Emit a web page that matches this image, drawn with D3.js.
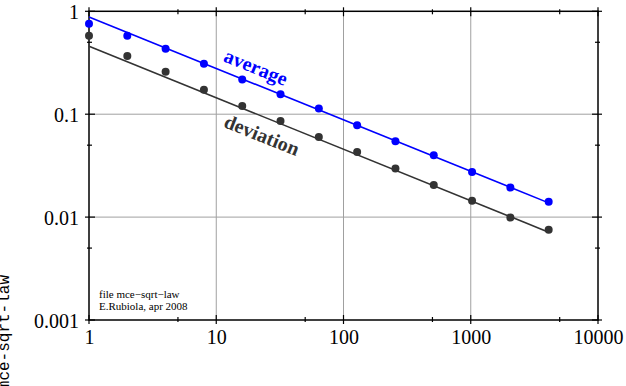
<!DOCTYPE html>
<html><head><meta charset="utf-8">
<script src="https://cdn.jsdelivr.net/npm/d3@7"></script>
<style>
body{margin:0;background:#fff}
svg{display:block}
svg text{font-family:'Liberation Serif';}
svg text.mono{font-family:'Liberation Mono';}
</style>
</head><body>
<script>
const nValues = [1,2,4,8,16,32,64,128,256,512,1024,2048,4096];
const averageValues = [0.758,0.58,0.433,0.31,0.217,0.156,0.1135,0.078,0.0547,0.040,0.0275,0.0194,0.0141];
const deviationValues = [0.58,0.368,0.259,0.173,0.12,0.086,0.060,0.043,0.0296,0.0205,0.0144,0.0099,0.00753];
const fitX = [1,4096];
const averageFit = [0.88,0.01375];
const deviationFit = [0.457,0.00714];
const xTicks = [1,10,100,1000,10000];
const xTickLabels = ["1","10","100","1000","10000"];
const xMinor = [5,50,500,5000];
const yTicks = [0.001,0.01,0.1,1];
const yTickLabels = ["0.001","0.01","0.1","1"];
const yMinor = [0.005,0.05,0.5];

const W=626,H=386;
const svg=d3.select("body").append("svg").attr("width",W).attr("height",H);
const x=d3.scaleLog().domain([1,10000]).range([89,598]);
const y=d3.scaleLog().domain([0.001,1]).range([320,11.3]);
const SERIF="'Liberation Serif'";

// grid
const g=svg.append("g");
g.selectAll(".gx").data(xTicks.slice(1,-1)).enter().append("line")
 .attr("x1",d=>x(d)).attr("x2",d=>x(d)).attr("y1",y(1)).attr("y2",y(0.001))
 .attr("stroke","#a0a0a0").attr("stroke-width",1);
g.selectAll(".gy").data(yTicks.slice(1,-1)).enter().append("line")
 .attr("y1",d=>y(d)).attr("y2",d=>y(d)).attr("x1",x(1)).attr("x2",x(10000))
 .attr("stroke","#a0a0a0").attr("stroke-width",1);

function fmtX(d){const i=xTicks.indexOf(d);return i>=0?xTickLabels[i]:"";}
function fmtY(d){const i=yTicks.indexOf(d);return i>=0?yTickLabels[i]:"";}
const ax=svg.append("g").attr("transform",`translate(0,${y(0.001)})`)
 .call(d3.axisBottom(x).tickValues(xTicks).tickFormat(fmtX).tickSize(0).tickPadding(10));
ax.select(".domain").remove();
ax.attr("font-family",null).attr("font-size",20);
ax.selectAll("text").style("font-family",SERIF).attr("font-size",20).attr("fill","#000");
const ay=svg.append("g").attr("transform",`translate(${x(1)},0)`)
 .call(d3.axisLeft(y).tickValues(yTicks).tickFormat(fmtY).tickSize(0).tickPadding(10));
ay.select(".domain").remove();
ay.attr("font-family",null).attr("font-size",20);
ay.selectAll("text").style("font-family",SERIF).attr("font-size",20).attr("fill","#000").attr("dy","0.35em");

// frame
svg.append("rect").attr("x",x(1)).attr("y",y(1)).attr("width",x(10000)-x(1)).attr("height",y(0.001)-y(1))
 .attr("fill","none").attr("stroke","#000").attr("stroke-width",1.5);

// ticks
const tk=svg.append("g").attr("stroke","#000").attr("stroke-width",1.2);
[[y(1),1],[y(0.001),-1]].forEach(([yy,s])=>{
  tk.selectAll(null).data(xTicks).enter().append("line")
   .attr("x1",d=>x(d)).attr("x2",d=>x(d)).attr("y1",yy-4*s).attr("y2",yy+5*s);
  tk.selectAll(null).data(xMinor).enter().append("line")
   .attr("x1",d=>x(d)).attr("x2",d=>x(d)).attr("y1",yy-2*s).attr("y2",yy+3*s);
});
[[x(1),1],[x(10000),-1]].forEach(([xx,s])=>{
  tk.selectAll(null).data(yTicks).enter().append("line")
   .attr("y1",d=>y(d)).attr("y2",d=>y(d)).attr("x1",xx-4*s).attr("x2",xx+6*s);
  tk.selectAll(null).data(yMinor).enter().append("line")
   .attr("y1",d=>y(d)).attr("y2",d=>y(d)).attr("x1",xx-2*s).attr("x2",xx+3*s);
});

// fit lines
const line=d3.line().x(d=>x(d[0])).y(d=>y(d[1]));
svg.append("path").attr("d",line(fitX.map((v,i)=>[v,averageFit[i]])))
 .attr("stroke","#0000ff").attr("stroke-width",1.6).attr("fill","none");
svg.append("path").attr("d",line(fitX.map((v,i)=>[v,deviationFit[i]])))
 .attr("stroke","#333333").attr("stroke-width",1.6).attr("fill","none");

// points
svg.selectAll(".pd").data(nValues).enter().append("circle")
 .attr("cx",d=>x(d)).attr("cy",(d,i)=>y(deviationValues[i])).attr("r",4).attr("fill","#333333");
svg.selectAll(".pa").data(nValues).enter().append("circle")
 .attr("cx",d=>x(d)).attr("cy",(d,i)=>y(averageValues[i])).attr("r",4).attr("fill","#0000ff");

// labels
const ang=Math.atan((y(0.01)-y(0.1))/(x(10)-x(1))/2)*180/Math.PI;
svg.append("text").attr("transform",`translate(256,67) rotate(${ang})`)
 .attr("text-anchor","middle").attr("dy","0.35em").style("font-family",SERIF)
 .attr("font-weight","bold").attr("font-size",20).attr("fill","#0000ff").text("average");
svg.append("text").attr("transform",`translate(262,135) rotate(${ang})`)
 .attr("text-anchor","middle").attr("dy","0.35em").style("font-family",SERIF)
 .attr("font-weight","bold").attr("font-size",20).attr("fill","#333333").text("deviation");

svg.append("text").attr("x",99).attr("y",298).style("font-family",SERIF).attr("font-size",11).text("file mce\u2212sqrt\u2212law");
svg.append("text").attr("x",99).attr("y",310).style("font-family",SERIF).attr("font-size",11).text("E.Rubiola, apr 2008");

svg.append("text").attr("class","mono").attr("transform","translate(9,275) rotate(-90)").attr("text-anchor","end")
 .style("font-family","'Liberation Mono'").attr("font-size",16).attr("fill","#000").text("mce-sqrt-law");
</script>
</body></html>
